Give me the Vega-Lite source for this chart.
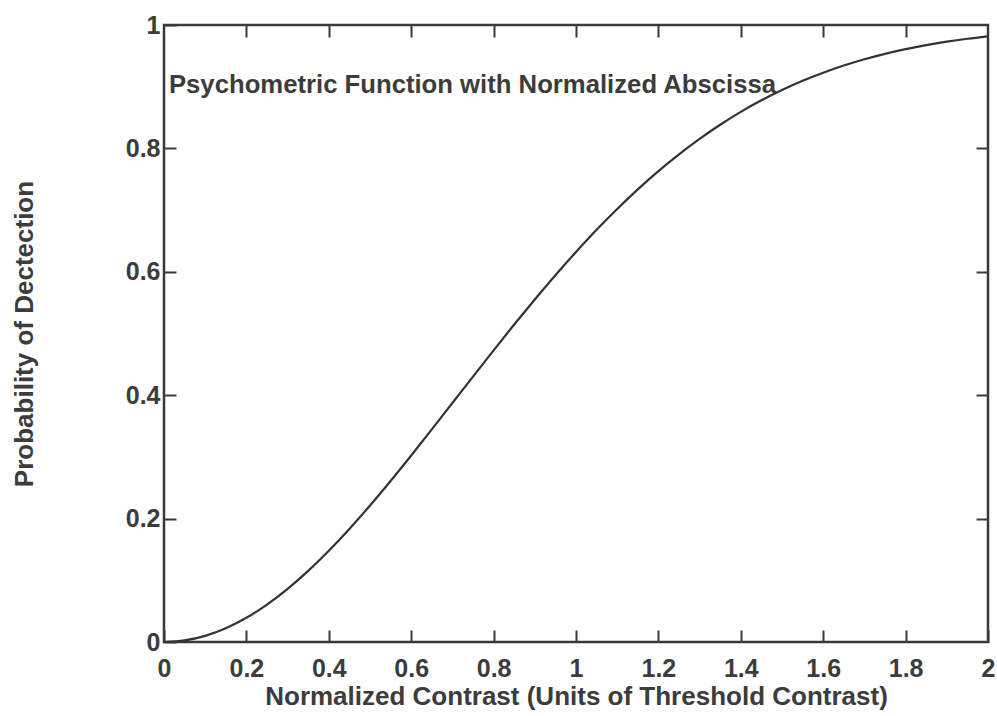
{
  "$schema": "https://vega.github.io/schema/vega-lite/v6.json",
  "width": 824,
  "height": 617,
  "autosize": {"type": "none"},
  "padding": {"left": 164, "top": 25, "right": 9, "bottom": 74},
  "background": "white",
  "config": {
    "view": {"stroke": "#3a3a3a", "strokeWidth": 2.5},
    "font": "Liberation Sans",
    "axis": {
      "grid": false,
      "domain": false,
      "tickColor": "#3a3a3a",
      "tickWidth": 2,
      "tickSize": -12,
      "labelFont": "Liberation Sans",
      "labelFontSize": 25,
      "labelFontWeight": "bold",
      "labelColor": "#3c3c3c",
      "titleFont": "Liberation Sans",
      "titleFontSize": 26,
      "titleFontWeight": "bold",
      "titleColor": "#3c3c3c"
    }
  },
  "datasets": {
    "curve": [
      {"x": 0.0, "p": 0.0},
      {"x": 0.05, "p": 0.0025},
      {"x": 0.1, "p": 0.00995},
      {"x": 0.15, "p": 0.02225},
      {"x": 0.2, "p": 0.0392},
      {"x": 0.25, "p": 0.0606},
      {"x": 0.3, "p": 0.0861},
      {"x": 0.35, "p": 0.1153},
      {"x": 0.4, "p": 0.1479},
      {"x": 0.45, "p": 0.1833},
      {"x": 0.5, "p": 0.2212},
      {"x": 0.55, "p": 0.261},
      {"x": 0.6, "p": 0.3023},
      {"x": 0.65, "p": 0.3446},
      {"x": 0.7, "p": 0.3874},
      {"x": 0.75, "p": 0.4302},
      {"x": 0.8, "p": 0.4727},
      {"x": 0.85, "p": 0.5145},
      {"x": 0.9, "p": 0.5551},
      {"x": 0.95, "p": 0.5945},
      {"x": 1.0, "p": 0.6321},
      {"x": 1.05, "p": 0.668},
      {"x": 1.1, "p": 0.7018},
      {"x": 1.15, "p": 0.7335},
      {"x": 1.2, "p": 0.7631},
      {"x": 1.25, "p": 0.7904},
      {"x": 1.3, "p": 0.8155},
      {"x": 1.35, "p": 0.8384},
      {"x": 1.4, "p": 0.8592},
      {"x": 1.45, "p": 0.8779},
      {"x": 1.5, "p": 0.8946},
      {"x": 1.55, "p": 0.9095},
      {"x": 1.6, "p": 0.9227},
      {"x": 1.65, "p": 0.9343},
      {"x": 1.7, "p": 0.9444},
      {"x": 1.75, "p": 0.9532},
      {"x": 1.8, "p": 0.9608},
      {"x": 1.85, "p": 0.9674},
      {"x": 1.9, "p": 0.973},
      {"x": 1.95, "p": 0.9777},
      {"x": 2.0, "p": 0.9817}
    ],
    "note": [
      {"x": 0.012, "p": 0.902, "label": "Psychometric Function with Normalized Abscissa"}
    ]
  },
  "layer": [
    {
      "data": {"name": "curve"},
      "mark": {"type": "line", "color": "#333333", "strokeWidth": 2.2, "interpolate": "monotone"},
      "encoding": {
        "x": {
          "field": "x", "type": "quantitative",
          "scale": {"domain": [0, 2], "nice": false, "zero": false},
          "axis": {"orient": "bottom", "values": [0, 0.2, 0.4, 0.6, 0.8, 1, 1.2, 1.4, 1.6, 1.8, 2], "labelExpr": "datum.value + ''", "labelPadding": 26, "title": "Normalized Contrast (Units of Threshold Contrast)", "titlePadding": 2, "labelFlush": false}
        },
        "y": {
          "field": "p", "type": "quantitative",
          "scale": {"domain": [0, 1], "nice": false},
          "axis": {"orient": "left", "values": [0, 0.2, 0.4, 0.6, 0.8, 1], "labelExpr": "datum.value + ''", "labelPadding": 16, "title": "Probability of Dectection", "titlePadding": 88, "labelFlush": false}
        }
      }
    },
    {
      "data": {"name": "curve"},
      "mark": {"type": "line", "opacity": 0},
      "encoding": {
        "x": {
          "field": "x", "type": "quantitative",
          "scale": {"domain": [0, 2], "nice": false, "zero": false},
          "axis": {"orient": "top", "values": [0.2, 0.4, 0.6, 0.8, 1, 1.2, 1.4, 1.6, 1.8], "labels": false, "title": null}
        },
        "y": {
          "field": "p", "type": "quantitative",
          "scale": {"domain": [0, 1], "nice": false},
          "axis": {"orient": "right", "values": [0.2, 0.4, 0.6, 0.8], "labels": false, "title": null}
        }
      }
    },
    {
      "data": {"name": "note"},
      "mark": {"type": "text", "align": "left", "baseline": "middle", "font": "Liberation Sans", "fontSize": 25.7, "fontWeight": "bold", "color": "#3c3c3c"},
      "encoding": {
        "x": {"field": "x", "type": "quantitative", "axis": null},
        "y": {"field": "p", "type": "quantitative", "axis": null},
        "text": {"field": "label"}
      }
    }
  ],
  "resolve": {"axis": {"x": "independent", "y": "independent"}}
}
